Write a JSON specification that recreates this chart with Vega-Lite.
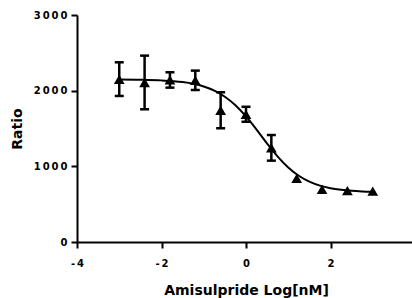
{
  "$schema": "https://vega.github.io/schema/vega-lite/v6.json",
  "width": 338,
  "height": 227,
  "autosize": "none",
  "padding": {"left": 77, "top": 15, "right": 0, "bottom": 56},
  "background": "white",
  "config": {
    "view": {"stroke": null},
    "axis": {
      "grid": false,
      "domainColor": "black",
      "domainWidth": 2,
      "tickColor": "black",
      "tickWidth": 2,
      "tickSize": 6,
      "labelFont": "DejaVu Sans",
      "labelFontWeight": "bold",
      "labelFontSize": 10,
      "labelColor": "black",
      "titleFont": "DejaVu Sans",
      "titleFontWeight": "bold",
      "titleFontSize": 14,
      "titleColor": "black"
    }
  },
  "datasets": {
    "pts": [
      {"x": -3.0, "y": 2150, "low": 1930, "high": 2375},
      {"x": -2.4, "y": 2108, "low": 1754, "high": 2463},
      {"x": -1.8, "y": 2142, "low": 2040, "high": 2243},
      {"x": -1.2, "y": 2137, "low": 2009, "high": 2265},
      {"x": -0.6, "y": 1741, "low": 1503, "high": 1979},
      {"x": 0.0, "y": 1688, "low": 1589, "high": 1787},
      {"x": 0.6, "y": 1245, "low": 1075, "high": 1414},
      {"x": 1.2, "y": 840, "low": null, "high": null},
      {"x": 1.8, "y": 695, "low": null, "high": null},
      {"x": 2.4, "y": 678, "low": null, "high": null},
      {"x": 3.0, "y": 672, "low": null, "high": null}
    ],
    "fit": [
      {"x": -3.0, "y": 2148},
      {"x": -2.5, "y": 2145},
      {"x": -2.0, "y": 2136},
      {"x": -1.5, "y": 2113},
      {"x": -1.25, "y": 2091},
      {"x": -1.0, "y": 2056},
      {"x": -0.75, "y": 2001},
      {"x": -0.5, "y": 1920},
      {"x": -0.25, "y": 1807},
      {"x": 0.0, "y": 1659},
      {"x": 0.25, "y": 1485},
      {"x": 0.5, "y": 1301},
      {"x": 0.75, "y": 1129},
      {"x": 1.0, "y": 985},
      {"x": 1.25, "y": 875},
      {"x": 1.5, "y": 797},
      {"x": 1.75, "y": 745},
      {"x": 2.0, "y": 711},
      {"x": 2.25, "y": 690},
      {"x": 2.5, "y": 676},
      {"x": 2.75, "y": 668},
      {"x": 3.0, "y": 663}
    ]
  },
  "layer": [
    {
      "data": {"name": "fit"},
      "mark": {"type": "line", "color": "black", "strokeWidth": 2, "interpolate": "monotone"},
      "encoding": {
        "x": {
          "field": "x", "type": "quantitative",
          "scale": {"domain": [-4, 4], "nice": false, "zero": false},
          "title": "Amisulpride Log[nM]",
          "axis": {"values": [-4, -2, 0, 2, 4], "labelExpr": "join(split('' + datum.value, ''), '\u2009')", "labelPadding": 10, "titlePadding": 15, "labelFlush": false}
        },
        "y": {
          "field": "y", "type": "quantitative",
          "scale": {"domain": [0, 3000], "nice": false},
          "title": "Ratio",
          "axis": {"values": [0, 1000, 2000, 3000], "labelExpr": "join(split('' + datum.value, ''), '\u2009')", "labelPadding": 4, "titlePadding": 9}
        }
      }
    },
    {
      "data": {"name": "pts"},
      "transform": [{"filter": "datum.low != null"}],
      "mark": {"type": "errorbar", "ticks": {"color": "black", "opacity": 1}, "rule": {"color": "black", "opacity": 1}, "color": "black", "thickness": 2.5, "size": 9},
      "encoding": {
        "x": {"field": "x", "type": "quantitative", "title": "Amisulpride Log[nM]"},
        "y": {"field": "low", "type": "quantitative", "title": "Ratio"},
        "y2": {"field": "high"}
      }
    },
    {
      "data": {"name": "pts"},
      "mark": {"type": "point", "shape": "triangle-up", "filled": true, "color": "black", "size": 115, "opacity": 1},
      "encoding": {
        "x": {"field": "x", "type": "quantitative", "title": "Amisulpride Log[nM]"},
        "y": {"field": "y", "type": "quantitative", "title": "Ratio"}
      }
    }
  ]
}
